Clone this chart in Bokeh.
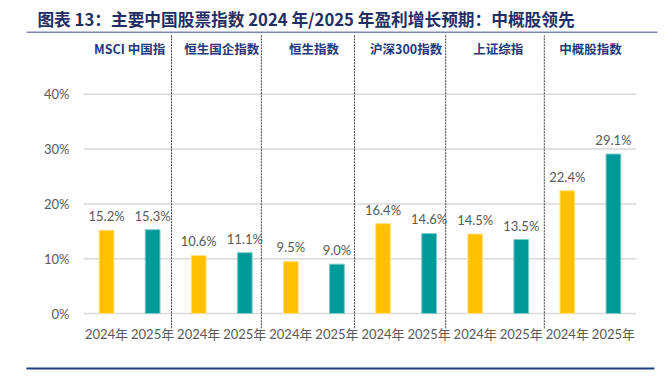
from bokeh.plotting import figure
from bokeh.models import FixedTicker, NumeralTickFormatter, ColumnDataSource, Range1d
from bokeh.core.properties import value
from bokeh.embed import file_html
from bokeh.resources import INLINE

# ---- data ----
title_text = "图表 13：主要中国股票指数 2024 年/2025 年盈利增长预期：中概股领先"
groups = ["MSCI 中国指", "恒生国企指数", "恒生指数", "沪深300指数", "上证综指", "中概股指数"]
years = ["2024年", "2025年"]
growth_2024 = [15.2, 10.6, 9.5, 16.4, 14.5, 22.4]
growth_2025 = [15.3, 11.1, 9.0, 14.6, 13.5, 29.1]
y_ticks = [0, 0.1, 0.2, 0.3, 0.4]
separators = [1.91, 3.86, 5.88, 7.86, 10.0]

# ---- styles ----
YELLOW = "#FFC000"
TEAL = "#009999"
GRAY_TEXT = "#595959"
NAVY = "#1F2F66"
NUM_FONT = "Lato, 'Noto Sans CJK SC'"

xs, vals, cols, edges, labels = [], [], [], [], []
for i in range(len(groups)):
    for j, v in enumerate([growth_2024[i], growth_2025[i]]):
        xs.append(2 * i + j + 0.5)
        vals.append(v / 100.0)
        cols.append(YELLOW if j == 0 else TEAL)
        edges.append("#FFE38A" if j == 0 else "#7ACACA")
        labels.append(f"{v:.1f}%")

src = ColumnDataSource(dict(x=xs, top=vals, color=cols, edge=edges, label=labels))

# frame covers the whole canvas; axes are placed at fixed data locations
p = figure(width=672, height=376, output_backend="svg", toolbar_location=None,
           x_range=Range1d(-1.8012, 12.782), y_range=Range1d(-0.11496, 0.57117),
           min_border=0, min_border_left=0, min_border_right=0,
           min_border_top=0, min_border_bottom=0)
p.outline_line_color = None
p.background_fill_color = "white"
p.border_fill_color = "white"
p.xgrid.grid_line_color = None
p.ygrid.grid_line_color = None

n_bars = len(xs)

# horizontal gridlines limited to the plotting area
p.segment(x0=[0] * len(y_ticks), x1=[n_bars] * len(y_ticks), y0=y_ticks, y1=y_ticks,
          line_color="#D9D9D9", line_width=1.5)

p.vbar(x="x", top="top", bottom=0, width=0.32, fill_color="color", line_color="edge",
       line_width=1, source=src)

p.text(x="x", y="top", text="label", source=src, text_align="center", text_baseline="middle",
       y_offset=-14, text_font=value("Lato"), text_font_size="13px", text_color=GRAY_TEXT)

# group headings
gx = [2 * i + 1 for i in range(len(groups))]
gy = [0.4836] * len(groups)
p.text(x=gx, y=gy, text=groups, text_align="center", text_baseline="middle",
       text_font=value("Noto Sans CJK SC"), text_font_style="bold", text_font_size="12.5px",
       text_color="#1F3A7A")

# dashed separators
p.segment(x0=separators, x1=separators, y0=[-0.027] * len(separators), y1=[0.509] * len(separators),
          line_color="#404040", line_width=1, line_dash="2 1")

# title and rules
p.text(x=[-1.0], y=[0.5365], text=[title_text], text_align="left", text_baseline="middle",
       text_font=value("Noto Sans CJK SC"), text_font_style="bold", text_font_size="16.7px",
       text_color=NAVY)
p.segment(x0=[-1.237], x1=[12.457], y0=[0.5133], y1=[0.5133], line_color="#7F86B5", line_width=1.5)
p.segment(x0=[-1.237], x1=[12.39], y0=[-0.1004], y1=[-0.1004], line_color="#1F3F7F", line_width=2)

# axes
p.yaxis.fixed_location = 0
p.yaxis.ticker = FixedTicker(ticks=y_ticks)
p.yaxis.formatter = NumeralTickFormatter(format="0%")
p.yaxis.axis_line_color = None
p.yaxis.major_tick_line_color = None
p.yaxis.minor_tick_line_color = None
p.yaxis.major_tick_out = 0
p.yaxis.major_tick_in = 0
p.yaxis.major_label_standoff = 14
p.yaxis.major_label_text_font = NUM_FONT
p.yaxis.major_label_text_font_size = "13px"
p.yaxis.major_label_text_color = GRAY_TEXT

xt = [k + 0.5 for k in range(n_bars)]
p.xaxis.fixed_location = -0.0237
p.xaxis.ticker = FixedTicker(ticks=xt)
p.xaxis.major_label_overrides = {t: years[k % 2] for k, t in enumerate(xt)}
p.xaxis.axis_line_color = None
p.xaxis.major_tick_line_color = None
p.xaxis.minor_tick_line_color = None
p.xaxis.major_tick_out = 0
p.xaxis.major_tick_in = 0
p.xaxis.major_label_standoff = 0
p.xaxis.major_label_text_font = NUM_FONT
p.xaxis.major_label_text_font_size = "13px"
p.xaxis.major_label_text_color = GRAY_TEXT

open("out.html", "w").write(file_html(p, INLINE))
